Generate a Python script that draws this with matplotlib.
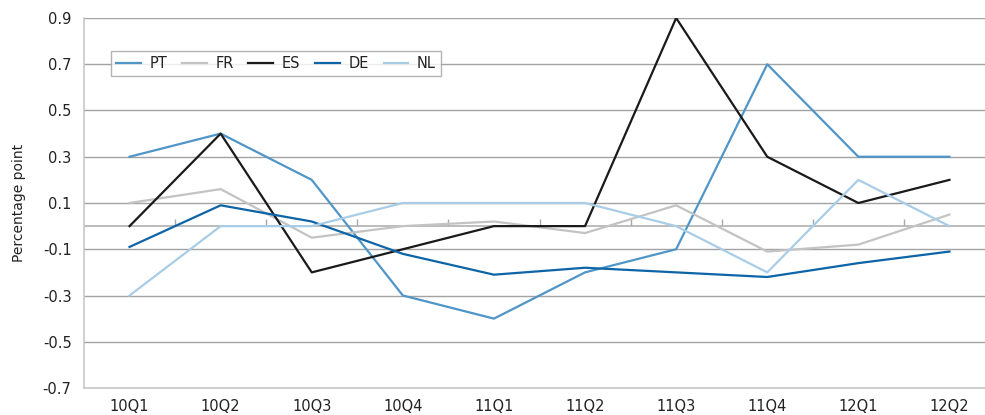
import numpy as np
import matplotlib.pyplot as plt

# quarterly changes, percentage point
quarters = ['10Q1', '10Q2', '10Q3', '10Q4', '11Q1', '11Q2', '11Q3', '11Q4', '12Q1', '12Q2']
pt = [0.30, 0.40, 0.20, -0.30, -0.40, -0.20, -0.10, 0.70, 0.30, 0.30]
fr = [0.10, 0.16, -0.05, 0.00, 0.02, -0.03, 0.09, -0.11, -0.08, 0.05]
es = [0.00, 0.40, -0.20, -0.10, 0.00, 0.00, 0.90, 0.30, 0.10, 0.20]
de = [-0.09, 0.09, 0.02, -0.12, -0.21, -0.18, -0.20, -0.22, -0.16, -0.11]
nl = [-0.30, 0.00, 0.00, 0.10, 0.10, 0.10, 0.00, -0.20, 0.20, 0.00]

series = [('PT', pt, '#4f95c8'), ('FR', fr, '#c3c3c3'), ('ES', es, '#1a1a1a'),
          ('DE', de, '#0d64a6'), ('NL', nl, '#a9cde6')]

W, H = 985, 415
fig = plt.figure(figsize=(W / 100, H / 100), dpi=100)
x0, x1, y0, y1 = 84, 84 + 91.1 * 10, 18, 388
ax = fig.add_axes([x0 / W, 1 - y1 / H, (x1 - x0) / W, (y1 - y0) / H])

x = np.arange(len(quarters))
for name, vals, col in series:
    ax.plot(x, vals, color=col, lw=1.6, label=name, zorder=3)

ax.set_xlim(-0.5, len(quarters) - 0.5)
ax.set_ylim(-0.7, 0.9)
yt = np.arange(-0.7, 0.91, 0.2)
ax.set_yticks(yt)
ax.set_yticklabels([f'{v:.1f}' for v in yt])
ax.set_xticks(x)
ax.set_xticklabels(quarters)
ax.tick_params(axis='both', length=0, labelsize=10.5, colors='#222222')
ax.tick_params(axis='y', pad=9)
ax.tick_params(axis='x', pad=8)

ax.grid(axis='y', color='#a3a3a3', lw=1)
ax.set_axisbelow(True)
for s in ['top', 'right']:
    ax.spines[s].set_visible(False)
for s in ['left', 'bottom']:
    ax.spines[s].set_color('#c8c8c8')
    ax.spines[s].set_linewidth(1.2)

# zero line with category separators
ax.axhline(0, color='#b0b0b0', lw=1.2, zorder=2)
zero = ax.secondary_xaxis(0.7 / 1.6)
zero.set_xticks(x[:-1] + 0.5)
zero.set_xticklabels([])
zero.tick_params(length=5, width=1, color='#a8a8a8', direction='in',
                 labeltop=False, labelbottom=False)
for s in zero.spines.values():
    s.set_visible(False)

ax.set_ylabel('Percentage point', fontsize=10, color='#222222', labelpad=12)

leg = ax.legend(ncol=5, loc='upper left', bbox_to_anchor=(0.0296, 0.911),
                borderaxespad=0, fancybox=False, frameon=True, fontsize=10.5,
                handlelength=1.7, handletextpad=0.6, columnspacing=1.0,
                borderpad=0.35)
leg.get_frame().set_edgecolor('#a0a0a0')
leg.get_frame().set_linewidth(1)
for t in leg.get_texts():
    t.set_color('#222222')

fig.savefig('out.png', dpi=100)
